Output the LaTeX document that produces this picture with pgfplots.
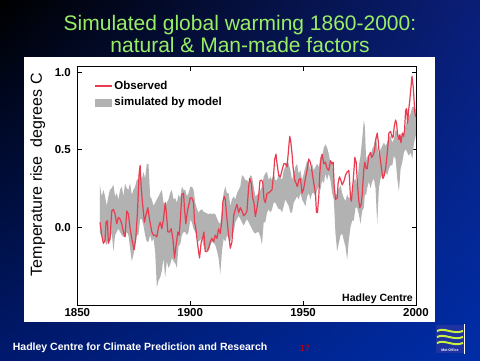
\documentclass[border=0pt]{standalone}
\usepackage{fontspec}
\setmainfont{Liberation Sans}
\usepackage{pgfplots}
\usepackage{pgfplotstable}
\pgfplotsset{compat=1.18}
\usetikzlibrary{shadings}
\definecolor{titlegreen}{RGB}{153,238,102}
\definecolor{obsred}{RGB}{232,60,80}
\definecolor{bandgray}{RGB}{178,178,178}
\definecolor{bgUR}{RGB}{10,30,120}
\definecolor{bgLL}{RGB}{0,25,110}
\definecolor{bgLR}{RGB}{0,45,168}
\definecolor{metblue}{RGB}{30,50,160}
\definecolor{metwave}{RGB}{200,240,60}
\definecolor{pagered}{RGB}{210,0,0}
\pgfplotsset{
  myline legend/.style={legend image code/.code={\draw[##1] (0pt,0pt) -- (17pt,0pt);}},
  mybox legend/.style={legend image code/.code={\fill[##1] (0pt,-4pt) rectangle (17pt,4pt);}},
}

\pgfplotstableread{
yr t
1860.07 0.033
1860.81 -0.05
1861.55 -0.103
1862.29 -0.082
1862.73 0.033
1863.32 0.044
1863.77 -0.103
1864.5 -0.071
1865.25 0.106
1865.99 0.117
1866.73 0.086
1867.47 0.023
1868.2 0.065
1868.94 0.054
1869.68 0.023
1870.42 -0.029
1871.16 -0.061
1871.9 0.106
1872.64 0.086
1873.38 -0.008
1874.12 -0.071
1875.16 -0.144
1875.9 -0.071
1876.64 0.096
1877.38 0.347
1877.82 0.399
1878.26 0.263
1878.86 0.159
1879.74 0.033
1880.33 0.075
1881.22 0.127
1881.96 0.054
1883.0 -0.029
1883.74 -0.05
1884.48 -0.05
1885.22 -0.061
1885.96 0.002
1886.7 0.033
1887.44 -0.008
1888.17 0.054
1888.91 0.159
1889.36 0.106
1890.1 -0.029
1890.84 -0.029
1891.58 -0.008
1892.32 -0.071
1893.06 -0.197
1893.7 -0.12
1894.53 -0.03
1895.13 -0.05
1895.57 0.033
1896.31 0.211
1897.05 0.221
1897.49 0.117
1898.08 0.023
1898.68 0.096
1899.27 0.138
1900.01 0.19
1900.75 0.19
1901.49 0.159
1901.93 0.033
1902.52 -0.009
1902.97 -0.071
1903.7 -0.155
1904.15 -0.197
1904.89 -0.092
1905.48 -0.071
1906.07 -0.03
1906.66 -0.155
1907.4 -0.155
1908.14 -0.134
1908.88 -0.092
1909.62 -0.071
1910.36 -0.092
1911.1 -0.05
1911.84 -0.071
1912.58 -0.009
1913.32 -0.04
1914.06 0.054
1914.5 0.169
1915.1 0.2
1915.54 0.18
1916.28 0.054
1917.02 -0.05
1917.76 -0.134
1918.5 -0.092
1919.24 0.075
1919.98 0.117
1920.72 0.148
1921.46 0.096
1922.2 0.127
1922.94 0.106
1923.68 0.075
1924.41 0.085
1925.15 0.106
1925.89 0.263
1926.34 0.316
1927.08 0.284
1927.67 0.19
1928.26 0.159
1928.85 0.07
1929.5 0.12
1930.3 0.2
1930.9 0.3
1931.5 0.305
1932.1 0.295
1932.69 0.18
1933.28 0.159
1934.02 0.221
1934.76 0.221
1935.5 0.232
1936.24 0.242
1936.98 0.347
1937.42 0.441
1938.01 0.472
1938.46 0.41
1939.2 0.336
1939.93 0.326
1940.67 0.368
1941.41 0.41
1942.15 0.41
1942.89 0.389
1943.63 0.514
1944.08 0.587
1944.52 0.556
1945.11 0.472
1945.56 0.389
1946.3 0.305
1946.89 0.284
1947.48 0.263
1948.07 0.305
1948.81 0.316
1949.55 0.221
1950.29 0.253
1951.03 0.316
1951.77 0.368
1952.51 0.441
1953.25 0.42
1953.99 0.357
1954.73 0.284
1955.47 0.221
1955.91 0.096
1956.36 0.096
1956.95 0.2
1957.39 0.347
1957.98 0.451
1958.43 0.472
1959.17 0.41
1959.9 0.42
1960.64 0.378
1961.38 0.368
1962.12 0.43
1962.86 0.41
1963.31 0.42
1963.75 0.274
1964.34 0.18
1965.07 0.19
1965.51 0.284
1966.1 0.326
1966.7 0.305
1967.29 0.274
1968.03 0.295
1968.77 0.336
1969.51 0.357
1970.25 0.368
1970.54 0.315
1970.99 0.19
1971.43 0.169
1971.73 0.232
1972.17 0.295
1972.91 0.451
1973.5 0.42
1974.09 0.274
1974.69 0.169
1975.13 0.127
1975.72 0.148
1976.16 0.211
1976.9 0.378
1977.35 0.42
1977.94 0.378
1978.38 0.378
1979.12 0.462
1979.86 0.483
1980.31 0.451
1980.9 0.462
1981.64 0.493
1982.08 0.556
1982.82 0.608
1983.27 0.556
1983.56 0.504
1984.0 0.462
1984.74 0.378
1985.34 0.315
1985.93 0.336
1986.52 0.378
1986.96 0.431
1987.56 0.525
1988.0 0.608
1988.74 0.619
1989.48 0.577
1989.92 0.587
1990.36 0.65
1990.96 0.692
1991.4 0.671
1991.84 0.598
1992.44 0.567
1992.88 0.598
1993.32 0.546
1993.92 0.608
1994.51 0.587
1994.95 0.629
1995.4 0.755
1995.84 0.765
1996.28 0.671
1996.73 0.755
1997.17 0.807
1997.76 0.901
1998.21 0.974
1998.8 0.901
1999.24 0.797
1999.54 0.734
1999.83 0.713
}\obs

\begin{document}
\begin{tikzpicture}
\shade[upper left=black, upper right=bgUR, lower left=bgLL, lower right=bgLR] (0pt,0pt) rectangle (480pt,360pt);
\fill[white] (24pt,38pt) rectangle (435pt,303pt);
\node[anchor=base, text=titlegreen, font=\fontsize{21}{22}\selectfont, inner sep=0pt] at (240pt,330pt) {Simulated global warming 1860-2000:};
\node[anchor=base, text=titlegreen, font=\fontsize{21}{22}\selectfont, inner sep=0pt] at (240pt,307.7pt) {natural \& Man-made factors};

\begin{axis}[
  at={(77.3pt,55pt)}, anchor=south west,
  scale only axis, width=338.7pt, height=239pt,
  xmin=1850, xmax=2000, ymin=-0.5, ymax=1.04,
  xtick={1850,1900,1950,2000}, xticklabels={1850,1900,1950,2000},
  ytick={0,0.5,1}, yticklabels={0.0,0.5,1.0},
  tick align=inside, major tick length=4.5pt,
  axis line style={line width=0.8pt},
  every tick/.style={black, line width=0.8pt},
  ticklabel style={font=\bfseries\fontsize{11.5}{12}\selectfont},
  yticklabel style={xshift=-3pt},
  ylabel={Temperature rise\ \ degrees C},
  ylabel style={at={(axis description cs:-0.117,0.545)}, anchor=center, font=\fontsize{16}{16}\selectfont},
  legend cell align=left,
  legend style={at={(0.051,0.94)}, anchor=north west, draw=none, fill=none, inner sep=0pt,
    font=\bfseries\fontsize{11.5}{12}\selectfont, row sep=5.5pt,
    nodes={inner xsep=1.5pt, inner ysep=0pt, text height=8.5pt, text depth=2.5pt}},
]
\addplot[fill=bandgray, draw=none, forget plot] coordinates {
(1860.0,0.274)(1860.81,0.2)(1861.55,0.242)(1862.29,0.2)(1863.03,0.138)(1863.77,0.2)(1864.5,0.242)(1865.25,0.253)(1865.99,0.274)(1866.73,0.2)(1867.47,0.221)(1868.2,0.18)(1868.94,0.242)(1869.68,0.263)(1870.42,0.2)(1871.16,0.284)(1871.9,0.253)(1872.64,0.242)(1873.38,0.284)(1874.12,0.211)(1874.86,0.242)(1875.6,0.263)(1876.34,0.305)(1877.08,0.316)(1877.82,0.389)(1878.56,0.305)(1879.3,0.357)(1880.04,0.316)(1880.78,0.41)(1881.52,0.41)(1882.26,0.2)(1883.0,0.18)(1883.74,0.138)(1884.48,0.159)(1885.22,0.18)(1885.96,0.2)(1886.7,0.221)(1887.44,0.242)(1888.17,0.159)(1888.91,0.138)(1889.65,0.159)(1890.39,0.18)(1891.13,0.221)(1891.87,0.242)(1892.61,0.18)(1893.35,0.19)(1894.09,0.159)(1894.83,0.21)(1895.57,0.19)(1896.31,0.263)(1897.05,0.242)(1897.79,0.242)(1898.53,0.2)(1899.27,0.221)(1900.01,0.26)(1900.75,0.263)(1901.49,0.242)(1902.23,0.159)(1902.97,0.12)(1903.7,0.096)(1904.44,0.11)(1905.18,0.117)(1905.92,0.1)(1906.66,0.096)(1907.4,0.09)(1908.14,0.085)(1908.88,0.09)(1909.62,0.085)(1910.36,0.09)(1911.1,0.085)(1911.84,0.06)(1912.58,0.033)(1913.32,0.023)(1914.06,0.117)(1914.8,0.221)(1915.54,0.263)(1916.28,0.221)(1917.02,0.221)(1917.76,0.138)(1918.5,0.18)(1919.24,0.2)(1919.98,0.18)(1920.72,0.221)(1921.46,0.242)(1922.2,0.263)(1922.94,0.336)(1923.68,0.326)(1924.41,0.305)(1925.15,0.305)(1925.89,0.284)(1926.63,0.336)(1927.37,0.326)(1928.11,0.263)(1928.84,0.2)(1929.58,0.21)(1930.32,0.221)(1931.06,0.24)(1931.8,0.263)(1932.54,0.326)(1933.28,0.347)(1934.02,0.357)(1934.76,0.305)(1935.5,0.326)(1936.24,0.305)(1936.98,0.347)(1937.72,0.305)(1938.46,0.305)(1939.2,0.347)(1939.93,0.326)(1940.67,0.305)(1941.41,0.368)(1942.15,0.389)(1942.89,0.43)(1943.63,0.41)(1944.37,0.368)(1945.11,0.305)(1945.85,0.347)(1946.59,0.389)(1947.33,0.41)(1948.07,0.347)(1948.81,0.368)(1949.55,0.305)(1950.29,0.347)(1951.03,0.389)(1951.77,0.43)(1952.51,0.41)(1953.25,0.368)(1953.99,0.41)(1954.73,0.368)(1955.47,0.389)(1956.21,0.41)(1956.95,0.389)(1957.69,0.451)(1958.43,0.451)(1959.17,0.514)(1959.9,0.535)(1960.64,0.514)(1961.38,0.472)(1962.12,0.41)(1962.86,0.43)(1963.6,0.305)(1964.34,0.2)(1965.08,0.22)(1965.82,0.25)(1966.6,0.27)(1967.3,0.22)(1968.03,0.19)(1968.77,0.169)(1969.51,0.211)(1970.25,0.19)(1970.99,0.19)(1971.73,0.232)(1972.47,0.295)(1973.2,0.315)(1973.94,0.274)(1974.69,0.399)(1975.43,0.462)(1976.16,0.567)(1976.9,0.69)(1977.35,0.65)(1977.94,0.42)(1978.38,0.462)(1979.12,0.441)(1979.86,0.462)(1980.6,0.504)(1981.34,0.525)(1982.08,0.587)(1982.82,0.525)(1983.56,0.462)(1984.3,0.504)(1985.04,0.525)(1985.78,0.546)(1986.52,0.525)(1987.26,0.546)(1988.0,0.587)(1988.74,0.587)(1989.48,0.546)(1990.22,0.567)(1990.96,0.629)(1991.7,0.608)(1992.44,0.587)(1993.18,0.567)(1993.92,0.587)(1994.66,0.608)(1995.4,0.65)(1996.14,0.692)(1996.88,0.713)(1997.62,0.734)(1998.36,0.776)(1999.1,0.776)(1999.9,0.76)
(1999.9,0.59)(1999.1,0.546)(1998.36,0.44)(1997.62,0.483)(1996.88,0.462)(1996.14,0.483)(1995.4,0.504)(1994.66,0.483)(1993.92,0.42)(1993.18,0.378)(1992.44,0.232)(1991.7,0.315)(1990.96,0.441)(1990.22,0.462)(1989.48,0.399)(1988.74,0.399)(1988.0,0.378)(1987.26,0.336)(1986.52,0.357)(1985.78,0.315)(1985.04,0.336)(1984.3,0.315)(1983.56,0.253)(1982.82,0.023)(1982.08,0.253)(1981.34,0.315)(1980.6,0.295)(1979.86,0.253)(1979.12,0.295)(1978.38,0.253)(1977.94,0.211)(1977.35,0.211)(1976.9,0.127)(1976.16,0.106)(1975.43,0.023)(1974.69,0.085)(1973.94,0.127)(1973.2,0.127)(1972.47,0.044)(1971.73,0.044)(1970.99,0.002)(1970.25,-0.082)(1969.51,-0.207)(1968.77,-0.124)(1968.03,-0.082)(1967.3,-0.04)(1966.6,-0.05)(1965.82,-0.1)(1965.08,-0.155)(1964.34,-0.04)(1963.6,0.18)(1962.86,0.221)(1962.12,0.305)(1961.38,0.347)(1960.64,0.305)(1959.9,0.347)(1959.17,0.284)(1958.43,0.305)(1957.69,0.242)(1956.95,0.263)(1956.21,0.242)(1955.47,0.2)(1954.73,0.221)(1953.99,0.221)(1953.25,0.18)(1952.51,0.221)(1951.77,0.2)(1951.03,0.138)(1950.29,0.159)(1949.55,0.18)(1948.81,0.221)(1948.07,0.18)(1947.33,0.2)(1946.59,0.18)(1945.85,0.159)(1945.11,0.096)(1944.37,0.096)(1943.63,0.138)(1942.89,0.159)(1942.15,0.18)(1941.41,0.138)(1940.67,0.096)(1939.93,0.117)(1939.2,0.117)(1938.46,0.138)(1937.72,0.159)(1936.98,0.159)(1936.24,0.117)(1935.5,0.096)(1934.76,0.117)(1934.02,0.096)(1933.28,0.033)(1932.54,0.033)(1931.8,-0.113)(1931.06,-0.06)(1930.32,-0.03)(1929.58,-0.03)(1928.84,-0.04)(1928.11,-0.03)(1927.37,-0.009)(1926.63,0.012)(1925.89,0.033)(1925.15,0.054)(1924.41,0.033)(1923.68,0.012)(1922.94,0.033)(1922.2,0.054)(1921.46,0.075)(1920.72,0.054)(1919.98,0.033)(1919.24,-0.03)(1918.5,-0.05)(1917.76,-0.092)(1917.02,-0.071)(1916.28,-0.05)(1915.54,-0.092)(1914.8,-0.071)(1914.06,-0.155)(1913.32,-0.3)(1912.58,-0.197)(1911.84,-0.15)(1911.1,-0.113)(1910.36,-0.1)(1909.62,-0.092)(1908.88,-0.12)(1908.14,-0.155)(1907.4,-0.14)(1906.66,-0.155)(1905.92,-0.12)(1905.18,-0.071)(1904.44,-0.08)(1903.7,-0.092)(1902.97,-0.06)(1902.23,-0.03)(1901.49,-0.009)(1900.75,0.033)(1900.01,0.05)(1899.27,-0.03)(1898.53,-0.05)(1897.79,-0.03)(1897.05,-0.03)(1896.31,-0.05)(1895.57,-0.11)(1894.83,-0.12)(1894.09,-0.26)(1893.35,-0.23)(1892.61,-0.218)(1891.87,-0.197)(1891.13,-0.239)(1890.39,-0.26)(1889.65,-0.218)(1888.91,-0.322)(1888.17,-0.197)(1887.44,-0.28)(1886.7,-0.322)(1885.96,-0.343)(1885.22,-0.385)(1884.48,-0.155)(1883.74,-0.071)(1883.0,-0.092)(1882.26,-0.05)(1881.52,-0.092)(1880.78,-0.092)(1880.04,-0.05)(1879.3,0.012)(1878.56,0.054)(1877.82,0.054)(1877.08,-0.05)(1876.34,-0.05)(1875.6,-0.113)(1874.86,-0.176)(1874.12,-0.218)(1873.38,-0.134)(1872.64,-0.05)(1871.9,-0.029)(1871.16,-0.061)(1870.42,-0.061)(1869.68,-0.05)(1868.94,-0.029)(1868.2,-0.008)(1867.47,-0.029)(1866.73,-0.05)(1865.99,-0.155)(1865.25,-0.029)(1864.5,-0.092)(1863.77,-0.071)(1863.03,-0.113)(1862.29,-0.092)(1861.55,-0.082)(1860.81,-0.05)(1860.0,-0.04)
} -- cycle;
\addplot[obsred, line width=1.2pt, line join=round, forget plot] table[x=yr, y=t] {\obs};
\addlegendimage{obsred, line width=1.2pt, myline legend}
\addlegendentry{Observed}
\addlegendimage{fill=bandgray, draw=none, mybox legend}
\addlegendentry{simulated by model}
\end{axis}

\node[anchor=base east, font=\bfseries\fontsize{10.5}{12}\selectfont, inner sep=0pt] at (413pt,59pt) {Hadley Centre};

\node[anchor=base west, text=white, font=\bfseries\fontsize{10.5}{12}\selectfont, inner sep=0pt] at (12.7pt,10pt) {Hadley Centre for Climate Prediction and Research};
\node[anchor=base, text=pagered, font=\fontsize{9}{10}\selectfont, inner sep=0pt] at (305pt,8.3pt) {17};

\fill[metblue] (436pt,7pt) rectangle (464pt,35pt);
\draw[white, line width=0.8pt] (464.6pt,6pt) -- (464.6pt,36pt);
\foreach \yy in {29,23,17} {
  \draw[metwave, line width=2pt] (437pt,\yy pt) .. controls (445pt,\yy pt+4pt) and (453pt,\yy pt-4pt) .. (463pt,\yy pt);
}
\node[text=white, font=\bfseries\fontsize{3.6}{4}\selectfont, inner sep=0pt] at (450pt,10pt) {Met Office};
\end{tikzpicture}
\end{document}
